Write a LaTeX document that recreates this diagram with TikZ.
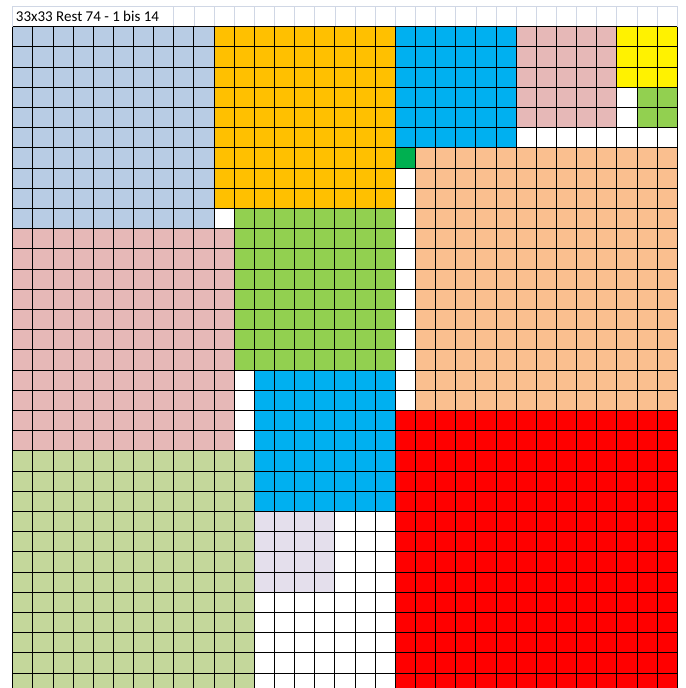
\documentclass[tikz,border=0pt]{standalone}
\usepackage{fontspec}
\setmainfont{Carlito}
\usepackage{tikz}
\usepackage{xcolor}
\definecolor{sheetgrey}{HTML}{D0D7E5}
\definecolor{paleblue}{HTML}{B8CCE4}
\definecolor{goldorange}{HTML}{FFC000}
\definecolor{skyblue}{HTML}{00B0F0}
\definecolor{rosepink}{HTML}{E6B8B7}
\definecolor{lightgreen}{HTML}{92D050}
\definecolor{darkgreen}{HTML}{00B050}
\definecolor{peach}{HTML}{FABF8F}
\definecolor{olive}{HTML}{C4D79B}
\definecolor{lavender}{HTML}{E4DFEC}

\begin{document}
\begin{tikzpicture}[
    x=20.14pt, y=20.2pt,
    cellline/.style={draw=black, line width=0.9pt, step=1},
    sheetline/.style={draw=sheetgrey, line width=0.8pt, step=1},
    title/.style={anchor=base west, inner sep=0pt, font=\fontsize{15}{18}\selectfont}
]
    \useasboundingbox (-0.63,0.26) rectangle (33.43,34.32);
    \clip (-0.63,0.26) rectangle (33.43,34.32);

    % Kopfzeile
    \draw[sheetline] (0,34) -- (33,34);
    \draw[sheetline] (0,33) -- (0,34);
    \draw[sheetline] (8,33) grid (33,34);
    \node[title] (title) at (0.15,33.27) {33x33 Rest 74 - 1 bis 14};

    % Quadrate 14 bis 1
    \fill[red] (19,14) rectangle ++(14,-14);
    \fill[peach] (20,27) rectangle ++(13,-13);
    \fill[olive] (0,12) rectangle ++(12,-12);
    \fill[rosepink] (0,23) rectangle ++(11,-11);
    \fill[paleblue] (0,33) rectangle ++(10,-10);
    \fill[goldorange] (10,33) rectangle ++(9,-9);
    \fill[lightgreen] (11,24) rectangle ++(8,-8);
    \fill[skyblue] (12,16) rectangle ++(7,-7);
    \fill[skyblue] (19,33) rectangle ++(6,-6);
    \fill[rosepink] (25,33) rectangle ++(5,-5);
    \fill[lavender] (12,9) rectangle ++(4,-4);
    \fill[yellow] (30,33) rectangle ++(3,-3);
    \fill[lightgreen] (31,30) rectangle ++(2,-2);
    \fill[darkgreen] (19,27) rectangle ++(1,-1);

    % Raster 33x33
    \draw[cellline] (0,0) grid (33,33);
\end{tikzpicture}
\end{document}
